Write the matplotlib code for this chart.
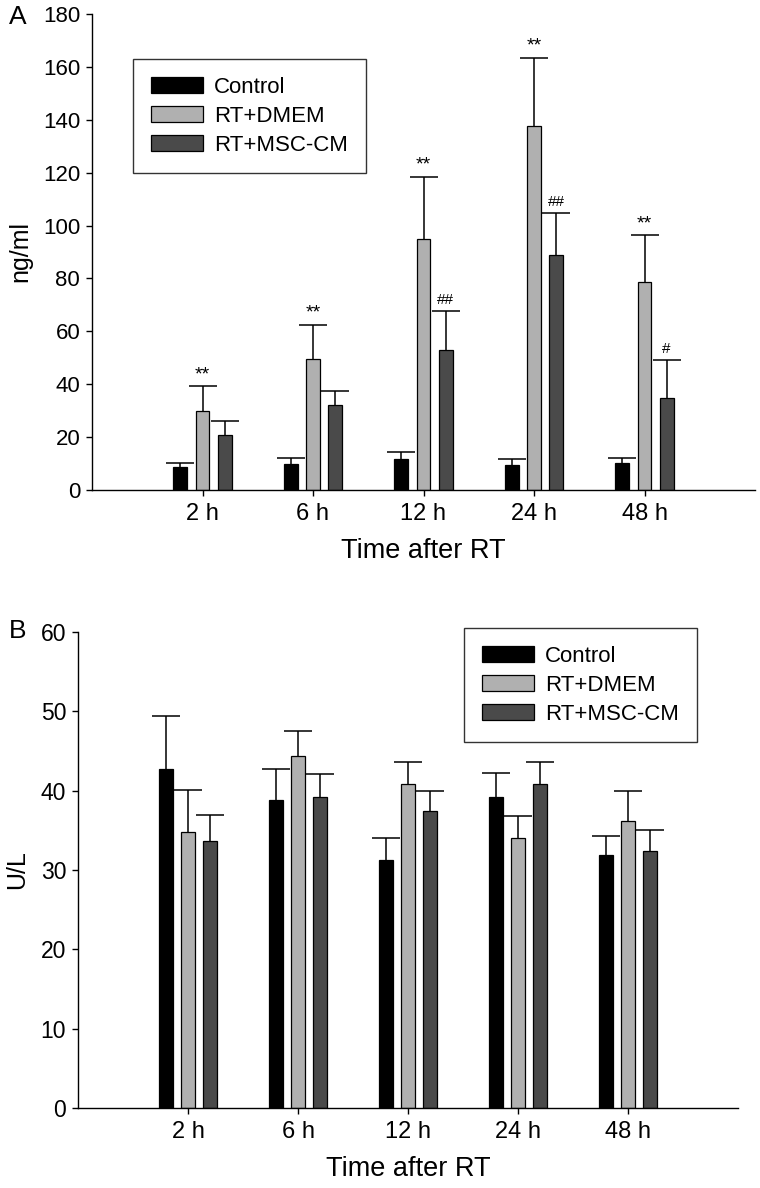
import matplotlib
matplotlib.use("Agg")
import matplotlib.pyplot as plt
import numpy as np

plt.rcParams["font.family"] = ["Liberation Sans", "DejaVu Sans"]

times = ["2 h", "6 h", "12 h", "24 h", "48 h"]
groups = ["Control", "RT+DMEM", "RT+MSC-CM"]

# panel A (ng/ml): mean and upper error
a_control = [8.7, 9.8, 11.6, 9.5, 10.1]
a_control_err = [1.5, 2.4, 2.9, 2.4, 2.1]
a_dmem = [30.0, 49.7, 94.9, 137.8, 78.8]
a_dmem_err = [9.3, 12.8, 23.5, 25.7, 17.6]
a_msc = [20.7, 32.3, 53.1, 88.9, 34.9]
a_msc_err = [5.4, 5.1, 14.6, 15.7, 14.4]
a_sig_dmem = ["**", "**", "**", "**", "**"]
a_sig_msc = ["", "", "##", "##", "#"]

# panel B (U/L)
b_control = [42.7, 38.8, 31.3, 39.2, 31.9]
b_control_err = [6.7, 3.9, 2.7, 3.0, 2.4]
b_dmem = [34.8, 44.4, 40.8, 34.0, 36.2]
b_dmem_err = [5.3, 3.1, 2.8, 2.8, 3.8]
b_msc = [33.6, 39.2, 37.4, 40.8, 32.4]
b_msc_err = [3.3, 2.9, 2.6, 2.8, 2.7]

colors = ["#000000", "#b0b0b0", "#4a4a4a"]
W, H = 760, 1188


def draw_panel(ax, means, errs, ymax, ystep, ylabel, label_x):
    x = np.arange(len(times))
    offsets = [-0.2, 0.0, 0.2]
    for k in range(3):
        ax.bar(x + offsets[k], means[k], width=0.125, color=colors[k],
               edgecolor="black", linewidth=0.9, label=groups[k], zorder=2)
        eb = ax.errorbar(x + offsets[k], means[k],
                         yerr=[np.zeros(len(times)), errs[k]],
                         fmt="none", ecolor="black", elinewidth=1.1,
                         capsize=10, capthick=1.1, zorder=3)
        # keep only the upper caps (one-sided error bars)
        for cap in eb[1]:
            if np.allclose(cap.get_ydata(), means[k]):
                cap.set_visible(False)
    ax.set_xlim(-1, 5)
    ax.set_ylim(0, ymax)
    ax.set_yticks(np.arange(0, ymax + 1, ystep))
    ax.set_xticks(x)
    ax.set_xticklabels(times)
    for s in ["top", "right"]:
        ax.spines[s].set_visible(False)
    for s in ["left", "bottom"]:
        ax.spines[s].set_linewidth(1.0)
    ax.tick_params(axis="y", length=4.5, width=1.0, pad=4, labelsize=16)
    ax.tick_params(axis="x", length=4.5, width=1.0, pad=5, labelsize=17)
    ax.set_xlabel("Time after RT", fontsize=19.5, labelpad=9)
    ax.set_ylabel(ylabel, fontsize=18, va="center")
    ax.yaxis.set_label_coords(label_x, 0.5)
    return x, offsets


def add_legend(ax, left, top):
    leg = ax.legend(loc="upper left", bbox_to_anchor=(left / W, 1 - top / H),
                    bbox_transform=fig.transFigure, borderaxespad=0,
                    fontsize=16, frameon=True, fancybox=False,
                    edgecolor="black", handlelength=2.35, handleheight=0.78,
                    handletextpad=0.5, labelspacing=0.35, borderpad=0.8)
    leg.get_frame().set_linewidth(1.0)


fig = plt.figure(figsize=(W / 100, H / 100), dpi=100)

# panel A
axA = fig.add_axes([92 / W, 1 - 490 / H, 663 / W, 476 / H])
x, offsets = draw_panel(axA, [a_control, a_dmem, a_msc],
                        [a_control_err, a_dmem_err, a_msc_err],
                        180, 20, "ng/ml", (20 - 92) / 663)
for i in range(len(times)):
    top = a_dmem[i] + a_dmem_err[i]
    axA.annotate(a_sig_dmem[i], (x[i] + offsets[1], top), xytext=(0, 5),
                 textcoords="offset points", ha="center", va="baseline",
                 fontsize=14, zorder=5)
    if a_sig_msc[i]:
        top = a_msc[i] + a_msc_err[i]
        axA.annotate(a_sig_msc[i], (x[i] + offsets[2], top), xytext=(0, 5),
                     textcoords="offset points", ha="center", va="baseline",
                     fontsize=11, zorder=5)
add_legend(axA, 133, 59)

# panel B
axB = fig.add_axes([78 / W, 1 - 1108 / H, 660 / W, 476 / H])
draw_panel(axB, [b_control, b_dmem, b_msc],
           [b_control_err, b_dmem_err, b_msc_err],
           60, 10, "U/L", (17 - 78) / 660)
axB.tick_params(axis="y", labelsize=16.5)
add_legend(axB, 464, 628)

fig.text(18 / W, 1 - 17 / H, "A", fontsize=19, ha="center", va="center")
fig.text(18 / W, 1 - 631 / H, "B", fontsize=19, ha="center", va="center")

fig.savefig("out.png", dpi=100)
